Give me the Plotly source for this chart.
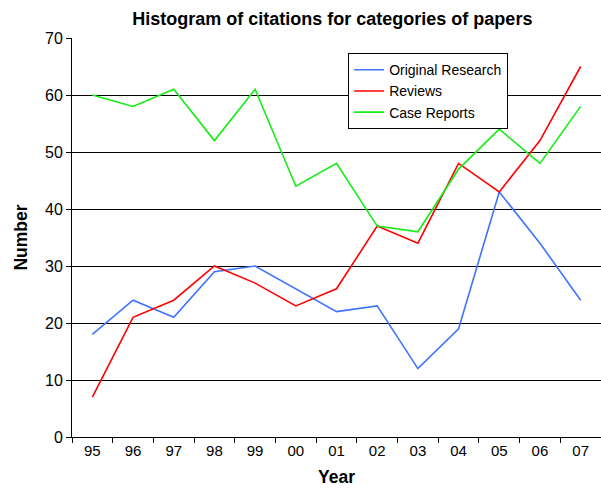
import plotly.graph_objects as go

years = ["95", "96", "97", "98", "99", "00", "01", "02", "03", "04", "05", "06", "07"]
original_research = [18, 24, 21, 29, 30, 26, 22, 23, 12, 19, 43, 34, 24]
reviews = [7, 21, 24, 30, 27, 23, 26, 37, 34, 48, 43, 52, 65]
case_reports = [60, 58, 61, 52, 61, 44, 48, 37, 36, 47, 54, 48, 58]

font_family = "Liberation Sans, Arial, sans-serif"

fig = go.Figure()
for name, values, color in [
    ("Original Research", original_research, "#3F72FF"),
    ("Reviews", reviews, "#FF0000"),
    ("Case Reports", case_reports, "#14EE14"),
]:
    fig.add_trace(go.Scatter(
        x=years, y=values, mode="lines", name=name,
        line=dict(color=color, width=1.6),
    ))

fig.update_layout(
    width=601, height=489,
    margin=dict(l=72, r=0, t=38, b=52),
    paper_bgcolor="white", plot_bgcolor="white",
    font=dict(family=font_family, size=14, color="black"),
    title=dict(
        text="<b>Histogram of citations for categories of papers</b>",
        x=0.553, xanchor="center", y=0.961, yanchor="middle",
        font=dict(size=18, family=font_family, color="black"),
    ),
    showlegend=True,
    legend=dict(
        x=0.522, y=0.962, xanchor="left", yanchor="top",
        bordercolor="black", borderwidth=1, bgcolor="white",
        font=dict(size=14, family=font_family),
        tracegroupgap=0, itemwidth=30,
    ),
)

fig.update_xaxes(
    type="category", tickson="boundaries",
    ticks="outside", ticklen=5, tickcolor="black",
    showline=True, linecolor="black", linewidth=1,
    showgrid=False, range=[-0.5, 12.5],
    tickfont=dict(size=15, family=font_family),
    title=dict(text="<b>Year</b>", font=dict(size=17.5, family=font_family), standoff=12),
)
fig.update_yaxes(
    range=[0, 70], dtick=10,
    ticks="outside", ticklen=5, tickcolor="black",
    showline=True, linecolor="black", linewidth=1,
    showgrid=True, gridcolor="black", gridwidth=1,
    zeroline=False,
    tickfont=dict(size=16, family=font_family),
    title=dict(text="<b>Number</b>", font=dict(size=17.5, family=font_family), standoff=12),
)

fig.write_html("out.html")
